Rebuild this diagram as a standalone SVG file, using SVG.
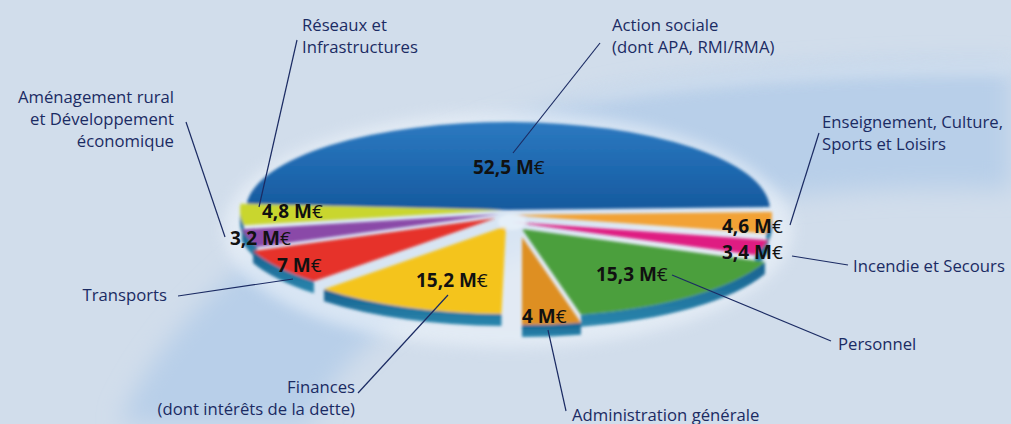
<svg xmlns="http://www.w3.org/2000/svg" width="1011" height="424" viewBox="0 0 1011 424">
<defs>
<style>
.lbl{font-family:"Open Sans","Liberation Sans",sans-serif;font-size:16.7px;fill:#1b2b63}
.val{font-family:"Open Sans","Liberation Sans",sans-serif;font-size:19px;font-weight:bold;fill:#111}
.eur{font-weight:normal}
.ln{stroke:#1b2b63;stroke-width:1.2;fill:none}
.side{fill:url(#sideG)}
</style>
<filter id="bigblur" x="-20%" y="-20%" width="140%" height="140%"><feGaussianBlur stdDeviation="12"/></filter>
<filter id="halo" x="-20%" y="-40%" width="140%" height="180%"><feGaussianBlur stdDeviation="7"/></filter>
<filter id="soft" x="-5%" y="-10%" width="110%" height="120%"><feGaussianBlur stdDeviation="1.8"/></filter>
<linearGradient id="blueG" x1="0" y1="0" x2="0" y2="1">
<stop offset="0" stop-color="#2c79c0"/><stop offset="0.6" stop-color="#1d66ad"/><stop offset="1" stop-color="#16599d"/>
</linearGradient>
<linearGradient id="sideG" x1="0" y1="0" x2="0" y2="1">
<stop offset="0" stop-color="#17618f"/><stop offset="1" stop-color="#2a86ad"/>
</linearGradient>
</defs>
<rect width="1011" height="424" fill="#d1ddeb"/>
<g id="background">
<path d="M120 424 C170 300 330 170 560 105 C700 70 880 62 1011 64 L1011 190 C860 182 700 200 560 240 C420 290 340 350 310 424 Z" fill="#b8cfe9" filter="url(#bigblur)"/>
<path d="M560 100 C700 70 880 62 1011 62 L1011 74 C880 72 720 80 600 98 Z" fill="#d6e2f0" opacity="0.8" filter="url(#halo)"/>
<ellipse cx="508" cy="230" rx="285" ry="118" fill="#eef4fb" opacity="0.6" filter="url(#halo)"/>
</g>
<g id="pie" filter="url(#soft)">
<g id="slice-action-sociale">
<path d="M508 210 L246.64 203.86 A262 88 0 0 1 769.84 206.93 Z" fill="url(#blueG)"/>
</g>
<g id="slice-amenagement">
<path class="side" d="M243.98 225.28 A262 88 0 0 1 240 210 L240 222 A262 88 0 0 0 243.98 237.28 Z"/>
<path d="M502 210 L243.98 225.28 A262 88 0 0 1 240.64 203.86 Z" fill="#c9d62e"/>
</g>
<g id="slice-enseignement">
<path class="side" d="M772 215 A262 88 0 0 1 766.27 233.3 L766.27 245.3 A262 88 0 0 0 772 227 Z"/>
<path d="M510 215 L771.84 211.93 A262 88 0 0 1 766.27 233.3 Z" fill="#f2a234"/>
</g>
<g id="slice-reseaux">
<path class="side" d="M257.08 246.97 A262 88 0 0 1 241.98 229.28 L241.98 241.28 A262 88 0 0 0 257.08 258.97 Z"/>
<path d="M500 214 L257.08 246.97 A262 88 0 0 1 241.98 229.28 Z" fill="#8a48a8"/>
</g>
<g id="slice-incendie">
<path class="side" d="M768.27 240.3 A262 88 0 0 1 754.92 254.97 L754.92 266.97 A262 88 0 0 0 768.27 252.3 Z"/>
<path d="M512 222 L768.27 240.3 A262 88 0 0 1 754.92 254.97 Z" fill="#df1b82"/>
</g>
<g id="slice-transports">
<path class="side" d="M313.99 281.3 A262 88 0 0 1 253.08 250.97 L253.08 262.97 A262 88 0 0 0 313.99 293.3 Z"/>
<path d="M496 218 L313.99 281.3 A262 88 0 0 1 253.08 250.97 Z" fill="#e6302a"/>
</g>
<g id="slice-personnel">
<path class="side" d="M764.92 261.97 A262 88 0 0 1 580.94 314.74 L580.94 326.74 A262 88 0 0 0 764.92 273.97 Z"/>
<path d="M522 229 L764.92 261.97 A262 88 0 0 1 580.94 314.74 Z" fill="#4b9f3d"/>
</g>
<g id="slice-finances">
<path class="side" d="M501.43 313.99 A262 88 0 0 1 323.99 289.3 L323.99 301.3 A262 88 0 0 0 501.43 325.99 Z"/>
<path d="M506 226 L501.43 313.99 A262 88 0 0 1 323.99 289.3 Z" fill="#f4c41b"/>
</g>
<g id="slice-administration">
<path class="side" d="M580.94 322.74 A262 88 0 0 1 522 325 L522 337 A262 88 0 0 0 580.94 334.74 Z"/>
<path d="M522 237 L580.94 322.74 A262 88 0 0 1 522 325 Z" fill="#de8f24"/>
</g>
<ellipse cx="512" cy="222" rx="14" ry="8" fill="#e8f1fa" opacity="0.8"/>
</g>
<g id="connectors">
<line class="ln" x1="297" y1="40" x2="259" y2="207"/>
<line class="ln" x1="186" y1="122" x2="225" y2="237"/>
<line class="ln" x1="600" y1="43" x2="513" y2="153"/>
<line class="ln" x1="819" y1="133" x2="790" y2="225"/>
<line class="ln" x1="792" y1="256" x2="848" y2="265"/>
<line class="ln" x1="672" y1="275" x2="831" y2="341"/>
<line class="ln" x1="178" y1="296" x2="293" y2="279"/>
<line class="ln" x1="358" y1="393" x2="448" y2="295"/>
<line class="ln" x1="548" y1="330" x2="566" y2="411"/>
</g>
<g id="values">
<text class="val" x="473" y="174">52,5 M<tspan class="eur">€</tspan></text>
<text class="val" x="262" y="218">4,8 M<tspan class="eur">€</tspan></text>
<text class="val" x="230" y="245">3,2 M<tspan class="eur">€</tspan></text>
<text class="val" x="277" y="272">7 M<tspan class="eur">€</tspan></text>
<text class="val" x="416" y="287">15,2 M<tspan class="eur">€</tspan></text>
<text class="val" x="722" y="233">4,6 M<tspan class="eur">€</tspan></text>
<text class="val" x="722" y="259">3,4 M<tspan class="eur">€</tspan></text>
<text class="val" x="596" y="281">15,3 M<tspan class="eur">€</tspan></text>
<text class="val" x="522" y="323">4 M<tspan class="eur">€</tspan></text>
</g>
<g id="label-reseaux"><text class="lbl" x="302" y="31">Réseaux et</text><text class="lbl" x="302" y="53">Infrastructures</text></g>
<g id="label-action"><text class="lbl" x="612" y="31">Action sociale</text><text class="lbl" x="612" y="53">(dont APA, RMI/RMA)</text></g>
<g id="label-amenagement" text-anchor="end"><text class="lbl" x="174" y="103">Aménagement rural</text><text class="lbl" x="174" y="125">et Développement</text><text class="lbl" x="174" y="147">économique</text></g>
<g id="label-enseignement"><text class="lbl" x="822" y="128">Enseignement, Culture,</text><text class="lbl" x="822" y="150">Sports et Loisirs</text></g>
<g id="label-incendie"><text class="lbl" x="853" y="272">Incendie et Secours</text></g>
<g id="label-personnel"><text class="lbl" x="838" y="350">Personnel</text></g>
<g id="label-transports"><text class="lbl" x="167" y="301" text-anchor="end">Transports</text></g>
<g id="label-finances" text-anchor="end"><text class="lbl" x="355" y="393">Finances</text><text class="lbl" x="355" y="415">(dont intérêts de la dette)</text></g>
<g id="label-administration"><text class="lbl" x="572" y="421">Administration générale</text></g>
</svg>
